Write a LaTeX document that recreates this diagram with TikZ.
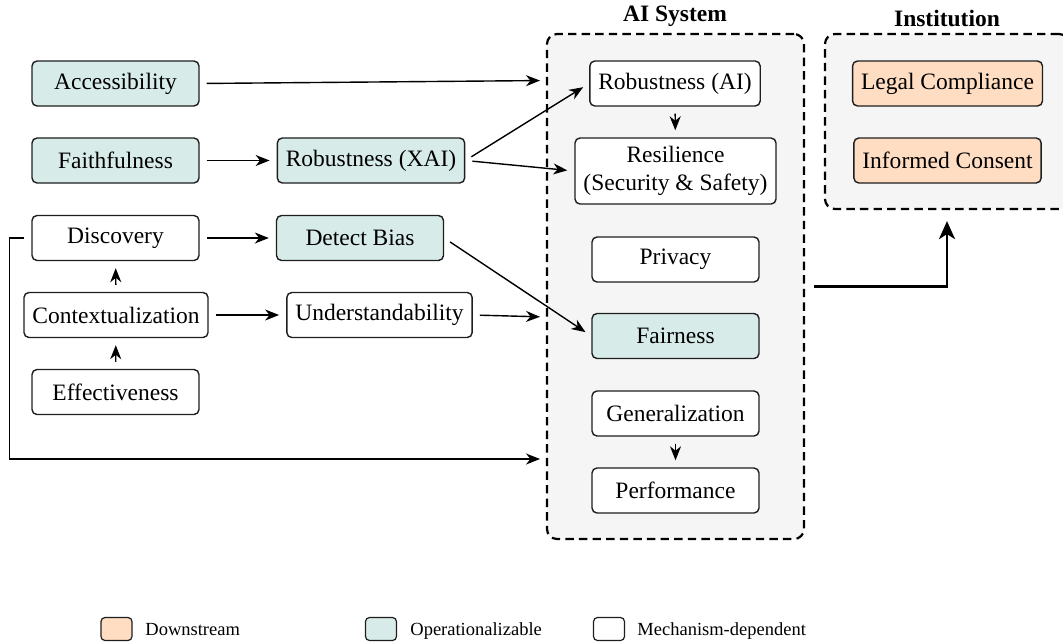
\documentclass[tikz,border=0pt]{standalone}
\usepackage{fontspec}
\setmainfont{Liberation Serif}
\usetikzlibrary{arrows.meta,calc}
\definecolor{opcol}{RGB}{215,235,233}
\definecolor{downcol}{RGB}{254,221,194}
\definecolor{groupbg}{RGB}{245,245,245}
\definecolor{edgecol}{RGB}{30,30,30}
\tikzset{
  boxbase/.style={draw=edgecol, line width=0.7pt, rounded corners=2.5pt,
    minimum width=83.5pt, minimum height=22.5pt, inner xsep=4.25pt, inner ysep=2pt,
    align=center, font=\rmfamily\fontsize{11.75}{14.2}\selectfont},
  opbox/.style={boxbase, fill=opcol},
  mechbox/.style={boxbase, fill=white},
  downbox/.style={boxbase, fill=downcol},
  groupbox/.style={draw=black, dashed, dash pattern=on 4.2pt off 2.6pt, line width=1.1pt,
    rounded corners=5pt, fill=groupbg, inner sep=0pt},
  grouptitle/.style={anchor=base, inner sep=0pt, font=\rmfamily\fontsize{11.75}{14}\selectfont\bfseries},
  arr/.style={-{Stealth[length=7pt,width=5.5pt,inset=2.2pt]}, line width=0.7pt,
    shorten >=3.5pt, shorten <=3.5pt},
  thickarr/.style={-{Stealth[length=9pt,width=8pt,inset=2.5pt]}, line width=1.4pt,
    shorten <=4.5pt, shorten >=5.5pt},
  legsw/.style={draw=edgecol, line width=0.6pt, rounded corners=2pt,
    minimum width=15.5pt, minimum height=11.5pt, inner sep=0pt},
  legtxt/.style={anchor=base west, inner sep=0pt, font=\rmfamily\fontsize{9.25}{11}\selectfont}
}
\begin{document}
\begin{tikzpicture}[x=0.5pt, y=-0.5pt]
\useasboundingbox (0,0) rectangle (1063,643);
\clip (0,0) rectangle (1063,643);

% group boxes
\node[groupbox, minimum width=128.5pt, minimum height=252.5pt] (ai) at (675.5,286.5) {};
\node[groupbox, minimum width=122pt, minimum height=87.5pt] (inst) at (947,121.5) {};
\node[grouptitle] (aititle) at (675,21) {AI System};
\node[grouptitle] (insttitle) at (947,26) {Institution};

% left column
\node[opbox] (acc) at (115.5,83.5) {Accessibility};
\node[opbox] (fai) at (115.5,160.5) {Faithfulness};
\node[mechbox] (dis) at (115.5,238) {Discovery};
\node[mechbox] (ctx) at (116,315) {Contextualization};
\node[mechbox] (eff) at (115.5,392) {Effectiveness};

% middle column
\node[opbox] (xai) at (371,160.5) {Robustness (XAI)};
\node[opbox] (det) at (360,238) {Detect Bias};
\node[mechbox] (und) at (379.5,315) {Understandability};

% AI system
\node[mechbox] (rai) at (675,83.5) {Robustness (AI)};
\node[mechbox, minimum height=33pt] (res) at (675.5,171) {Resilience\\(Security \& Safety)};
\node[mechbox] (pri) at (675.5,259.5) {Privacy};
\node[opbox] (fair) at (675.5,336) {Fairness};
\node[mechbox] (gen) at (675.5,413.5) {Generalization};
\node[mechbox] (perf) at (675.5,490.5) {Performance};

% institution
\node[downbox] (legal) at (947.5,83.5) {Legal Compliance};
\node[downbox] (cons) at (947.5,160.5) {Informed Consent};

% entry points on the AI system box
\coordinate (aiA) at (547,80.5);
\coordinate (aiU) at (547,317);
\coordinate (aiL) at (547,459);

% connectors
\draw[arr] (acc.east) -- (aiA);
\draw[arr] (fai) -- (xai);
\draw[arr] (xai.east) -- (rai.west);
\draw[arr] (xai.east) -- (res.west);
\draw[arr] (rai) -- (res);
\draw[arr] (dis) -- (det);
\draw[arr] (ctx) -- (dis);
\draw[arr] (eff) -- (ctx);
\draw[arr] (ctx) -- (und);
\draw[arr] (und.east) -- (aiU);
\draw[arr] (det.east) -- (fair.west);
\draw[arr] (dis.west) -- ++(-22,0) |- (aiL);
\draw[arr] (gen) -- (perf);
\draw[thickarr] (ai.east) -| (inst.south);

% legend
\node[legsw, fill=downcol] (lg1) at (116.5,629) {};
\node[legtxt] (lt1) at (145,635) {Downstream};
\node[legsw, fill=opcol] (lg2) at (381,629) {};
\node[legtxt] (lt2) at (410,635) {Operationalizable};
\node[legsw, fill=white] (lg3) at (609,629) {};
\node[legtxt] (lt3) at (637,635) {Mechanism-dependent};
\end{tikzpicture}
\end{document}
